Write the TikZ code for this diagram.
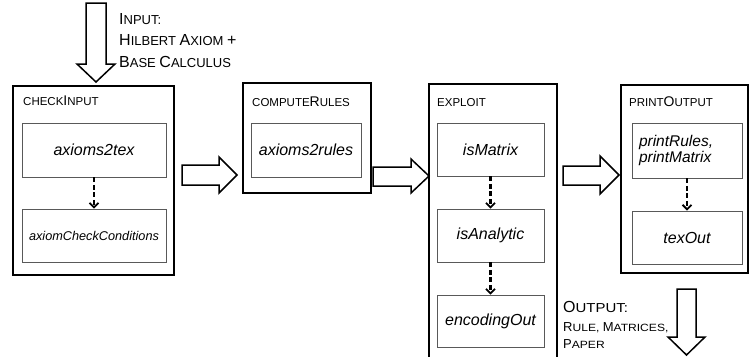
\documentclass[tikz,border=0pt]{standalone}
\usepackage{fontspec}
\setmainfont{Liberation Sans}
\newfontfamily\scwide[FakeStretch=1.15]{Liberation Sans}
\usetikzlibrary{arrows.meta}
\newcommand\Tsm{\fontsize{11.5}{12}\selectfont}
\newcommand\Tbg{\fontsize{14}{14}\selectfont}
\newcommand\Ibg{\normalfont\fontsize{16}{16}\selectfont}
\newcommand\Ism{\normalfont\fontsize{13}{13}\selectfont}
\newcommand\OTsm{\scwide\fontsize{13}{13}\selectfont}
\newcommand\Obg{\normalfont\fontsize{13}{13}\selectfont}
\newcommand\Osm{\scwide\fontsize{10.5}{10.5}\selectfont}
\begin{document}
\begin{tikzpicture}[x=1pt,y=-1pt,
 outerbox/.style={draw, line width=2.4pt, inner sep=0pt},
 innerbox/.style={draw=black!65, line width=0.9pt, inner sep=0pt, font=\fontsize{16}{16}\selectfont\itshape},
 title/.style={anchor=base west, inner sep=0pt, font=\Tsm},
 blockarrow/.style={draw, line width=1.5pt, fill=white, line join=miter},
 dasharrow/.style={line width=2.2pt, dash pattern=on 5pt off 2.5pt, -{Straight Barb[length=4.5pt,width=9pt,line width=1.8pt]}},
 note/.style={anchor=base west, inner sep=0pt}
]
\clip (0,0) rectangle (749,356);
\fill[white] (0,0) rectangle (749,356);

% block arrows
\draw[blockarrow] (86,3) -- (106,3) -- (106,64) -- (115,64) -- (96,82) -- (77,64) -- (86,64) -- cycle;
\draw[blockarrow] (182,165) -- (219,165) -- (219,157) -- (237,175) -- (219,193) -- (219,185) -- (182,185) -- cycle;
\draw[blockarrow] (373,167) -- (411,167) -- (411,159) -- (429,176) -- (411,193) -- (411,186) -- (373,186) -- cycle;
\draw[blockarrow] (563,166) -- (600,166) -- (600,156) -- (619,175) -- (600,194) -- (600,185) -- (563,185) -- cycle;
\draw[blockarrow] (677,289) -- (696,289) -- (696,337) -- (705,337) -- (686.5,355) -- (668,337) -- (677,337) -- cycle;

% outer boxes
\node[outerbox, minimum width=161pt, minimum height=189pt] (checkInput) at (93.5,180.5) {};
\node[outerbox, minimum width=128pt, minimum height=110pt] (computeRules) at (307,138) {};
\node[outerbox, minimum width=128pt, minimum height=296pt] (exploit) at (493,232) {};
\node[outerbox, minimum width=127pt, minimum height=188pt] (printOutput) at (684.5,179) {};

% titles
\node[title] (tCI) at (23,105) {CHECK{\Tbg I}NPUT};
\node[title] (tCR) at (252,106) {COMPUTE{\Tbg R}ULES};
\node[title] (tEX) at (437,106) {EXPLOIT};
\node[title] (tPO) at (629,106) {PRINT{\Tbg O}UTPUT};

% inner boxes
\node[innerbox, minimum width=144pt, minimum height=54pt] (a2t) at (94,150) {axioms2tex};
\node[innerbox, minimum width=144pt, minimum height=53pt, font=\fontsize{12.7}{13}\selectfont\itshape] (acc) at (94,235.5) {axiomCheckConditions};
\node[innerbox, minimum width=110pt, minimum height=54pt] (a2r) at (306,150) {axioms2rules};
\node[innerbox, minimum width=107pt, minimum height=53pt] (isM) at (490.5,149.5) {isMatrix};
\node[innerbox, minimum width=107pt, minimum height=53pt] (isA) at (490.5,235.5) {isAnalytic};
\node[innerbox, minimum width=107pt, minimum height=52pt] (enc) at (490.5,321) {encodingOut};
\node[innerbox, minimum height=55pt, text width=96pt, inner xsep=7pt, align=left, font=\fontsize{15.5}{16}\selectfont\itshape] (pr) at (687,150.5) {printRules,\\printMatrix};
\node[innerbox, minimum width=110pt, minimum height=53pt] (tex) at (687,237.5) {texOut};

% dashed arrows
\draw[dasharrow] (a2t) -- (acc);
\draw[dasharrow] (isM) -- (isA);
\draw[dasharrow] (isA) -- (enc);
\draw[dasharrow] (pr) -- (tex);

% input / output texts
\node[note] (inTitle) at (119,24) {\Ibg I\Ism NPUT:};
\node[note] (inL2) at (119,45.5) {\Ibg H\Ism ILBERT \Ibg A\Ism XIOM \Ibg +};
\node[note] (inL3) at (119,67) {\Ibg B\Ism ASE \Ibg C\Ism ALCULUS};
\node[note] (outTitle) at (563,312) {\Ibg O\OTsm UTPUT:};
\node[note] (outL2) at (563,331) {\Obg R\Osm ULE, \Obg M\Osm ATRICES,};
\node[note] (outL3) at (563,348) {\Obg P\Osm APER};
\end{tikzpicture}
\end{document}
